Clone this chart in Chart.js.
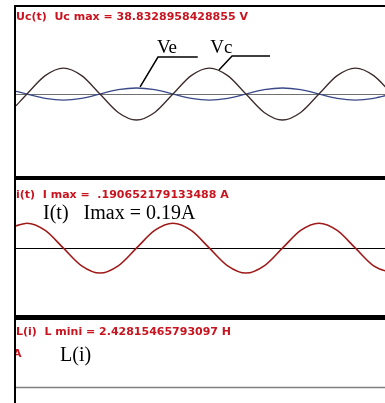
<!DOCTYPE html>
<html>
<head>
<meta charset="utf-8">
<script src="https://cdn.jsdelivr.net/npm/chart.js@4.4.1/dist/chart.umd.min.js"></script>
<style>
  html, body { margin: 0; padding: 0; background: #fff; }
  body { width: 385px; height: 403px; position: relative; overflow: hidden; }
  canvas { position: absolute; left: 0; }
</style>
</head>
<body>
<canvas id="ucChart" width="385" height="180" style="top:0"></canvas>
<canvas id="iChart" width="385" height="140" style="top:180px"></canvas>
<canvas id="lChart" width="385" height="83" style="top:320px"></canvas>
<script>
// time axis (ms), sampled at peaks, zero crossings and the points between
const timeMs = [0, 1.5, 4, 6.5, 9, 11.5, 14, 16.5, 19, 21.5, 24, 26.5, 29, 31.5, 34, 36.5, 39, 41.5, 44, 46.5, 49, 51.5];
// capacitor voltage Vc (V)
const vcVolts = [-17.6, 0, 27.5, 38.8, 27.5, 0, -27.5, -38.8, -27.5, 0, 27.5, 38.8, 27.5, 0, -27.5, -38.8, -27.5, 0, 27.5, 38.8, 27.5, 0];
// source voltage Ve (V)
const veVolts = [4.1, 0, -6.4, -9, -6.4, 0, 6.4, 9, 6.4, 0, -6.4, -9, -6.4, 0, 6.4, 9, 6.4, 0, -6.4, -9, -6.4, 0];
// current i(t) (A)
const currentAmps = [0.17, 0.19, 0.135, 0, -0.135, -0.19, -0.135, 0, 0.135, 0.19, 0.135, 0, -0.135, -0.19, -0.135, 0, 0.135, 0.19, 0.135, 0, -0.135, -0.19];
// L(i) curve: nothing visible in this view
const inductanceH = [];

const ucTitle = 'Uc(t)  Uc max = 38.8328958428855 V';
const iTitle = 'i(t)  I max =  .190652179133488 A';
const lTitle = 'L(i)  L mini = 2.42815465793097 H';

function toPoints(ys) {
    return ys.map((y, i) => ({ x: timeMs[i], y: y }));
}

// draws the scope frame, zero line, titles and labels
const scopeFrame = {
    id: 'scopeFrame',
    beforeDatasetsDraw(chart, args, o) {
        const ctx = chart.ctx, a = chart.chartArea;
        ctx.save();
        ctx.strokeStyle = o.zeroColor;
        ctx.lineWidth = o.zeroWidth;
        const y0 = Math.round(chart.scales.y.getPixelForValue(0)) + 0.5;
        ctx.beginPath();
        ctx.moveTo(a.left, y0);
        ctx.lineTo(a.right, y0);
        ctx.stroke();
        ctx.restore();
    },
    afterDraw(chart, args, o) {
        const ctx = chart.ctx, a = chart.chartArea;
        const sx = chart.scales.x, sy = chart.scales.y;
        ctx.save();
        ctx.beginPath();
        ctx.rect(a.left, a.top, a.right - a.left, a.bottom - a.top);
        ctx.clip();
        ctx.fillStyle = '#c8141e';
        ctx.font = 'bold 11px "DejaVu Sans"';
        ctx.fillText(o.title, a.left, a.top + o.titleY);
        (o.redMarks || []).forEach(m => ctx.fillText(m.text, m.x, a.top + m.y));
        ctx.fillStyle = '#000';
        ctx.font = o.labelFont;
        (o.labels || []).forEach(l => ctx.fillText(l.text, l.x, a.top + l.y));
        (o.dataLabels || []).forEach(l => {
            ctx.fillText(l.text, sx.getPixelForValue(l.t), sy.getPixelForValue(l.v));
        });
        ctx.strokeStyle = '#000';
        ctx.lineWidth = 1.5;
        (o.leaders || []).forEach(pts => {
            ctx.beginPath();
            pts.forEach((p, i) => {
                const px = sx.getPixelForValue(p[0]), py = sy.getPixelForValue(p[1]);
                if (i === 0) ctx.moveTo(px, py); else ctx.lineTo(px, py);
            });
            ctx.stroke();
        });
        ctx.restore();

        ctx.save();
        ctx.fillStyle = '#000';
        ctx.fillRect(14, o.frameTop, 2, chart.height - o.frameTop);
        if (o.topBorder) ctx.fillRect(14, 5, chart.width - 14, 2);
        if (o.separator) ctx.fillRect(14, a.bottom, chart.width - 14, o.separator);
        ctx.restore();
    }
};

function makeScope(id, datasets, yMin, yMax, padding, frame) {
    return new Chart(document.getElementById(id), {
        type: 'line',
        data: { datasets: datasets },
        options: {
            responsive: false,
            animation: false,
            layout: { padding: padding },
            elements: { point: { radius: 0 } },
            scales: {
                x: { type: 'linear', min: 0, max: 50.55, display: false },
                y: { min: yMin, max: yMax, display: false }
            },
            plugins: {
                legend: { display: false },
                tooltip: { enabled: false },
                scopeFrame: frame
            }
        },
        plugins: [scopeFrame]
    });
}

makeScope('ucChart', [
    { label: 'Vc', data: toPoints(vcVolts), borderColor: '#3b2b2b', borderWidth: 1.3, cubicInterpolationMode: 'monotone' },
    { label: 'Ve', data: toPoints(veVolts), borderColor: '#3a4888', borderWidth: 1.3, cubicInterpolationMode: 'monotone' }
], -122.5, 130, { left: 16, top: 7, right: 0, bottom: 4 }, {
    title: ucTitle, titleY: 13,
    zeroColor: '#707070', zeroWidth: 1.2,
    labelFont: '19px "Liberation Serif"',
    dataLabels: [
        { text: 'Ve', t: 19.3, v: 61.2 },
        { text: 'Vc', t: 26.6, v: 61.2 }
    ],
    leaders: [
        [[17.0, 10.5], [19.45, 55.3], [24.9, 55.3]],
        [[27.8, 35.8], [29.6, 56.8], [34.8, 56.8]]
    ],
    frameTop: 5, topBorder: true, separator: 4
});

makeScope('iChart', [
    { label: 'i(t)', data: toPoints(currentAmps), borderColor: '#a01a1a', borderWidth: 1.6, cubicInterpolationMode: 'monotone' }
], -0.51, 0.52, { left: 16, top: 0, right: 0, bottom: 5 }, {
    title: iTitle, titleY: 18,
    zeroColor: '#000', zeroWidth: 1,
    labelFont: '20px "Liberation Serif"',
    labels: [{ text: 'I(t)   Imax = 0.19A', x: 43, y: 39 }],
    frameTop: 0, separator: 5
});

makeScope('lChart', [
    { label: 'L(i)', data: toPoints(inductanceH), borderColor: '#a01a1a', borderWidth: 1.5 }
], -1, 4.2, { left: 16, top: 0, right: 0, bottom: 0 }, {
    title: lTitle, titleY: 15,
    zeroColor: '#808080', zeroWidth: 1.5,
    labelFont: '20px "Liberation Serif"',
    redMarks: [{ text: 'A', x: 13, y: 37 }],
    labels: [{ text: 'L(i)', x: 60, y: 41 }],
    frameTop: 0
});
</script>
</body>
</html>
